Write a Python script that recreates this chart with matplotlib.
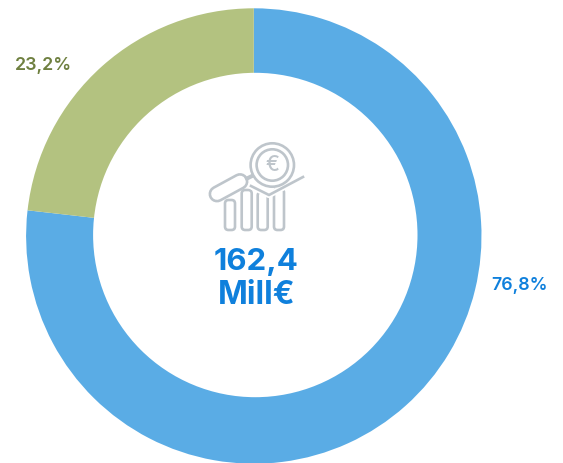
import matplotlib
matplotlib.use("Agg")
import matplotlib.pyplot as plt
from matplotlib.patches import Circle, FancyBboxPatch

shares = [76.8, 23.2]
share_labels = ["76,8%", "23,2%"]
ring_colors = ["#5AACE5", "#B3C280"]
label_colors = ["#0F80DC", "#6F8040"]
total_lines = ["162,4", "Mill€"]

W, H = 563, 463
ICON = "#BEC5CB"
plt.rcParams["font.family"] = ["Inter", "DejaVu Sans"]

fig = plt.figure(figsize=(W / 100, H / 100), dpi=100, facecolor="white")

# Pie, clockwise from twelve o'clock; the hole is laid over it below
cx, cy, R = 253.8, 236.0, 227.7
ring = fig.add_axes([(cx - R) / W, 1 - (cy + R) / H, 2 * R / W, 2 * R / H])
ring.pie(shares, colors=ring_colors, startangle=90, counterclock=False, radius=1.0,
         wedgeprops=dict(linewidth=0))
ring.set_xlim(-1, 1)
ring.set_ylim(-1, 1)
ring.set_axis_off()
ring.patch.set_alpha(0)

# Overlay in pixel coordinates for the hole, the centre icon and the text
ov = fig.add_axes([0, 0, 1, 1])
ov.set_xlim(0, W)
ov.set_ylim(H, 0)
ov.set_axis_off()
ov.patch.set_alpha(0)
ov.add_patch(Circle((255.3, 235.0), 162.2, fc="white", ec="none", zorder=1))

lw = 1.9
# Bars of the icon
for x0, top in [(225, 200), (241.7, 190), (257.7, 192), (274, 189)]:
    ov.add_patch(FancyBboxPatch((x0, top), 10, 230 - top,
                                boxstyle="round,pad=0,rounding_size=3.5", fill=False,
                                ec=ICON, lw=lw, zorder=3))

# Handle: thick grey capsule with a white core
hx, hy = [217, 240], [194, 181.5]
ov.plot(hx, hy, color=ICON, lw=12.2, solid_capstyle="round", zorder=4)
ov.plot(hx, hy, color="white", lw=8.4, solid_capstyle="round", zorder=5)
ov.plot([247, 256], [178.5, 174], color=ICON, lw=lw + 1, zorder=5)

# Trend line
ov.plot([251, 269, 303], [186, 195, 177], color="white", lw=4.5, zorder=4)
ov.plot([251, 269, 303], [186, 195, 177], color=ICON, lw=lw, zorder=5)

# Lens
ov.add_patch(Circle((272.3, 165), 21.7, fc="white", ec=ICON, lw=lw, zorder=6))
ov.add_patch(Circle((272.3, 165), 15.7, fc="white", ec=ICON, lw=lw, zorder=7))
ov.text(272, 165, "€", color=ICON, fontsize=15, fontweight="medium",
        ha="center", va="center", zorder=8)

# Total in the hole
ov.text(256.5, 261.5, total_lines[0], color=label_colors[0], fontsize=22.5, fontweight="bold",
        ha="center", va="center")
ov.text(256.5, 296, total_lines[1], color=label_colors[0], fontsize=23, fontweight="bold",
        ha="center", va="center")

# Share labels outside the ring
ov.text(519.5, 286, share_labels[0], color=label_colors[0], fontsize=12.8, fontweight="semibold",
        ha="center", va="center")
ov.text(43.5, 65, share_labels[1], color=label_colors[1], fontsize=12.8, fontweight="semibold",
        ha="center", va="center")

fig.savefig("out.png", dpi=100, facecolor="white")
